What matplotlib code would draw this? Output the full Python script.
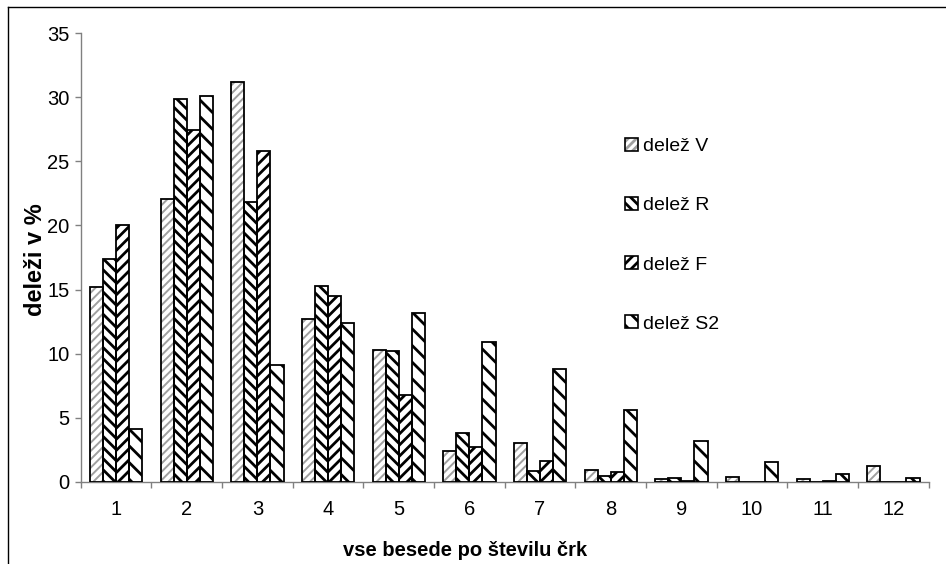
import numpy as np
import matplotlib.pyplot as plt
from matplotlib.patches import Patch
from matplotlib.lines import Line2D

plt.rcParams['font.family'] = ['Liberation Sans', 'DejaVu Sans']
plt.rcParams['hatch.linewidth'] = 2.0

# data (percent of words by letter count)
categories = ['1', '2', '3', '4', '5', '6', '7', '8', '9', '10', '11', '12']
share_v = [15.2, 22.1, 31.2, 12.7, 10.3, 2.4, 3.0, 0.95, 0.2, 0.4, 0.2, 1.25]
share_r = [17.4, 29.9, 21.8, 15.3, 10.2, 3.8, 0.8, 0.45, 0.3, 0.0, 0.0, 0.0]
share_f = [20.0, 27.45, 25.8, 14.5, 6.8, 2.7, 1.6, 0.78, 0.05, 0.0, 0.03, 0.0]
share_s2 = [4.1, 30.1, 9.1, 12.4, 13.2, 10.9, 8.8, 5.6, 3.2, 1.5, 0.62, 0.3]
labels = ['delež V', 'delež R', 'delež F', 'delež S2']

series = [share_v, share_r, share_f, share_s2]
hatches = ['////', '\\\\\\', '///', '\\\\']
hatch_cols = ['#a0a0a0', 'black', 'black', 'black']
hatch_lw = [1.4, 2.0, 2.0, 2.0]

fig = plt.figure(figsize=(9.46, 5.64), dpi=100)
ax = fig.add_axes([0.0853, 0.1459, 0.8964, 0.795])

x = np.arange(1, len(categories) + 1)
w = 0.185
handles = []
for i, vals in enumerate(series):
    pos = x + (i - 1.5) * w
    hb = ax.bar(pos, vals, w, color='white', edgecolor=hatch_cols[i],
                hatch=hatches[i], linewidth=0, zorder=2)
    for p in hb:
        if hasattr(p, 'set_hatch_linewidth'):
            p.set_hatch_linewidth(hatch_lw[i])
    ax.bar(pos, vals, w, color='none', edgecolor='black', linewidth=1.3, zorder=3)
    ph = Patch(facecolor='white', edgecolor=hatch_cols[i], hatch=hatches[i], linewidth=0)
    if hasattr(ph, 'set_hatch_linewidth'):
        ph.set_hatch_linewidth(hatch_lw[i])
    po = Patch(facecolor='none', edgecolor='black', linewidth=1.2)
    handles.append((ph, po))

ax.set_xlim(0.5, 12.5)
ax.set_ylim(0, 35)
ax.set_yticks(range(0, 36, 5))
ax.set_xticks(x)
ax.set_xticklabels(categories)
ax.set_xticks(np.arange(0.5, 13, 1), minor=True)
ax.tick_params(axis='x', which='major', length=0, pad=13, labelsize=14.5)
ax.tick_params(axis='x', which='minor', length=4, width=1, color='#808080', direction='out')
ax.tick_params(axis='y', length=4, width=1, color='#808080', pad=4, labelsize=14.5)

for s in ['top', 'right']:
    ax.spines[s].set_visible(False)
for s in ['left', 'bottom']:
    ax.spines[s].set_color('#808080')
    ax.spines[s].set_linewidth(1)

fig.text(465 / 946, 1 - 550 / 564, 'vse besede po številu črk', ha='center', va='center',
         fontsize=14.5, fontweight='bold')
fig.text(36 / 946, 1 - 260 / 564, 'deleži v %', ha='center', va='center', rotation=90,
         fontsize=17, fontweight='bold')

leg = fig.legend(handles, labels, loc='upper left',
                 bbox_to_anchor=(625 / 946, 1 - 138 / 564),
                 frameon=False, fontsize=14, handlelength=0.65, handleheight=0.65,
                 handletextpad=0.3, labelspacing=2.15, borderpad=0, borderaxespad=0)

# scan frame (left and top edges)
fig.add_artist(Line2D([8 / 946, 8 / 946], [0, 1 - 7 / 564], color='black', lw=1))
fig.add_artist(Line2D([8 / 946, 1], [1 - 7 / 564, 1 - 7 / 564], color='black', lw=1))

fig.savefig('out.png', dpi=100)
